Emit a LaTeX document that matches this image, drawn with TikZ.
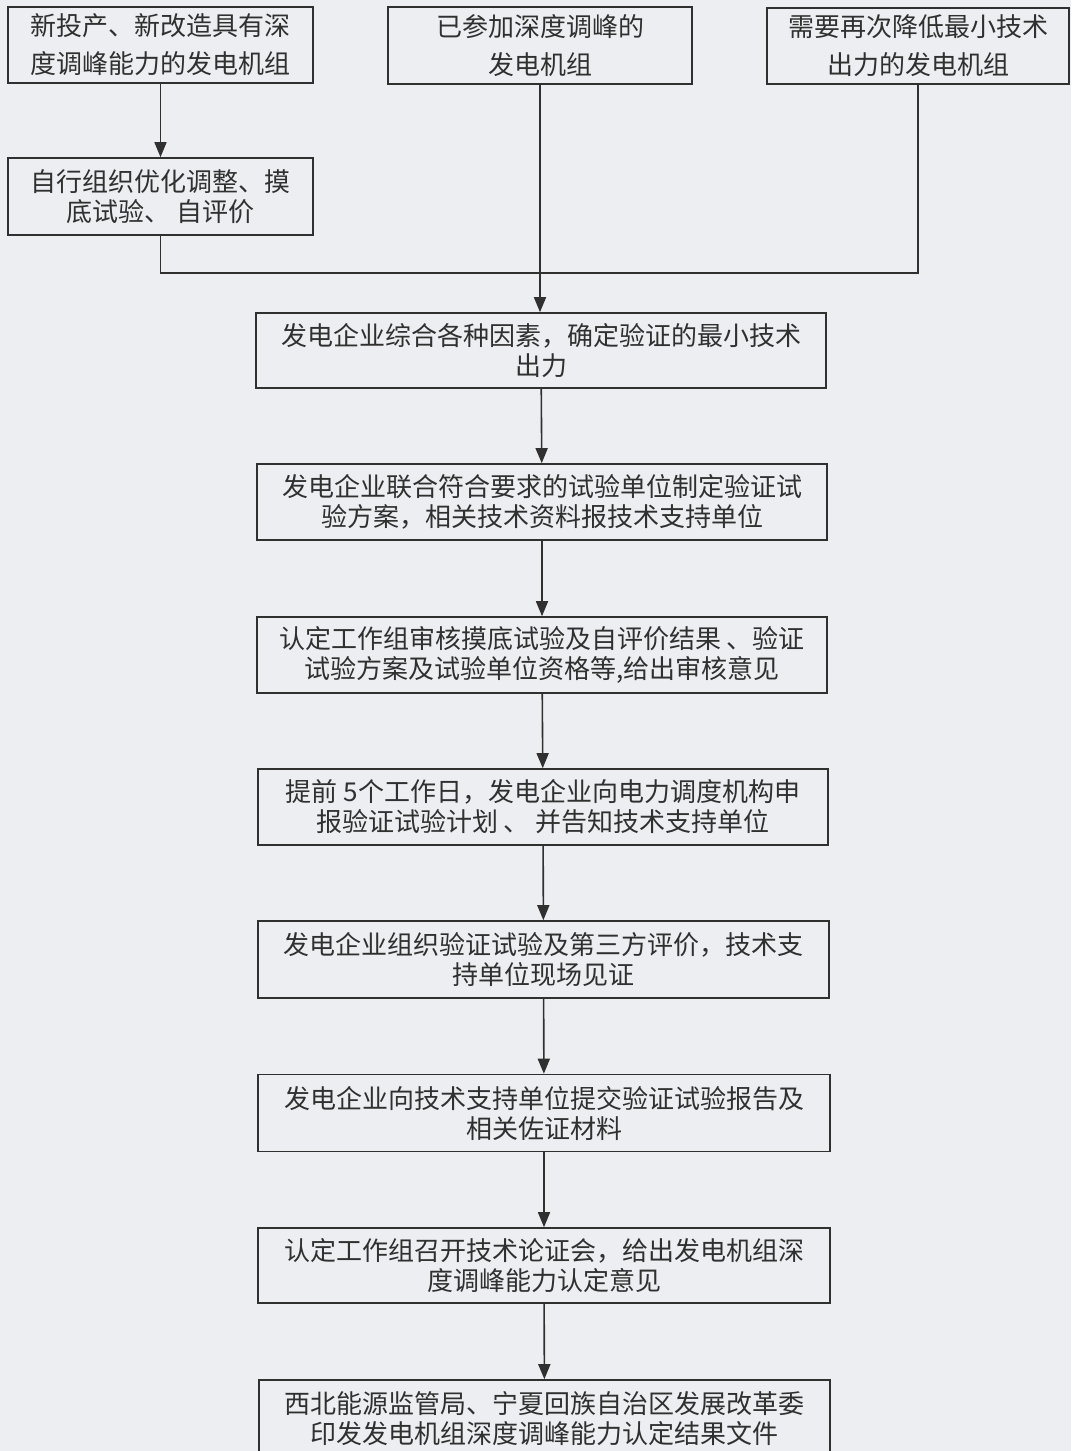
\documentclass[tikz,border=0pt]{standalone}
\usepackage{fontspec}
\newfontfamily\cjk{Noto Sans CJK SC}
\usetikzlibrary{arrows.meta}
\definecolor{paper}{RGB}{236,238,242}
\definecolor{ink}{RGB}{48,48,48}
\begin{document}
\begin{tikzpicture}[x=1pt,y=-1pt,
  box/.style={draw=ink, line width=1.6pt, inner sep=0pt, align=center, text=ink,
    font=\cjk\fontsize{26}{30}\selectfont},
  topbox/.style={box, font=\cjk\fontsize{26}{38}\selectfont},
  flow/.style={draw=ink, line width=1.6pt, -{Triangle[width=12pt,length=15pt]}},
  link/.style={draw=ink, line width=1.6pt}]
\fill[paper] (0,0) rectangle (1071,1451);
\useasboundingbox (0,0) rectangle (1071,1451);
\clip (0,0) rectangle (1071,1451);

\node[topbox, minimum width=305pt, minimum height=76pt] (A) at (160.5,45)
  {新投产、新改造具有深\\度调峰能力的发电机组};
\node[topbox, minimum width=304pt, minimum height=77pt] (B) at (540,45.5)
  {已参加深度调峰的\\发电机组};
\node[topbox, minimum width=302pt, minimum height=76pt] (C) at (918,46)
  {需要再次降低最小技术\\出力的发电机组};
\node[box, minimum width=305pt, minimum height=77pt] (D) at (160.5,196.5)
  {自行组织优化调整、摸\\底试验、 自评价};

\node[box, minimum width=570pt, minimum height=75pt] (E) at (541,350.5)
  {发电企业综合各种因素，确定验证的最小技术\\出力};
\node[box, minimum width=570pt, minimum height=76pt] (F) at (542,502)
  {发电企业联合符合要求的试验单位制定验证试\\验方案，相关技术资料报技术支持单位};
\node[box, minimum width=570pt, minimum height=76pt] (G) at (542,655)
  {认定工作组审核摸底试验及自评价结果 、验证\\试验方案及试验单位资格等,给出审核意见};
\node[box, minimum width=570pt, minimum height=76pt] (H) at (543,807)
  {提前 5个工作日，发电企业向电力调度机构申\\报验证试验计划 、 并告知技术支持单位};
\node[box, minimum width=571pt, minimum height=77pt] (I) at (543.5,959.5)
  {发电企业组织验证试验及第三方评价，技术支\\持单位现场见证};
\node[box, minimum width=572pt, minimum height=77pt] (J) at (544,1113)
  {发电企业向技术支持单位提交验证试验报告及\\相关佐证材料};
\node[box, minimum width=572pt, minimum height=75pt] (K) at (544,1265.5)
  {认定工作组召开技术论证会，给出发电机组深\\度调峰能力认定意见};
\node[box, minimum width=571pt, minimum height=77pt] (L) at (544.5,1418.5)
  {西北能源监管局、宁夏回族自治区发展改革委\\印发发电机组深度调峰能力认定结果文件};

\coordinate (jn) at (540,273);
\draw[flow] (A) -- (D);
\draw[link] (D.south) |- (jn);
\draw[link] (C.south) |- (jn);
\draw[flow] (B.south) -- (B.south |- E.north);
\foreach \a/\b in {E/F,F/G,G/H,H/I,I/J,J/K,K/L}
  \draw[flow] (\a) -- (\b);
\end{tikzpicture}
\end{document}
